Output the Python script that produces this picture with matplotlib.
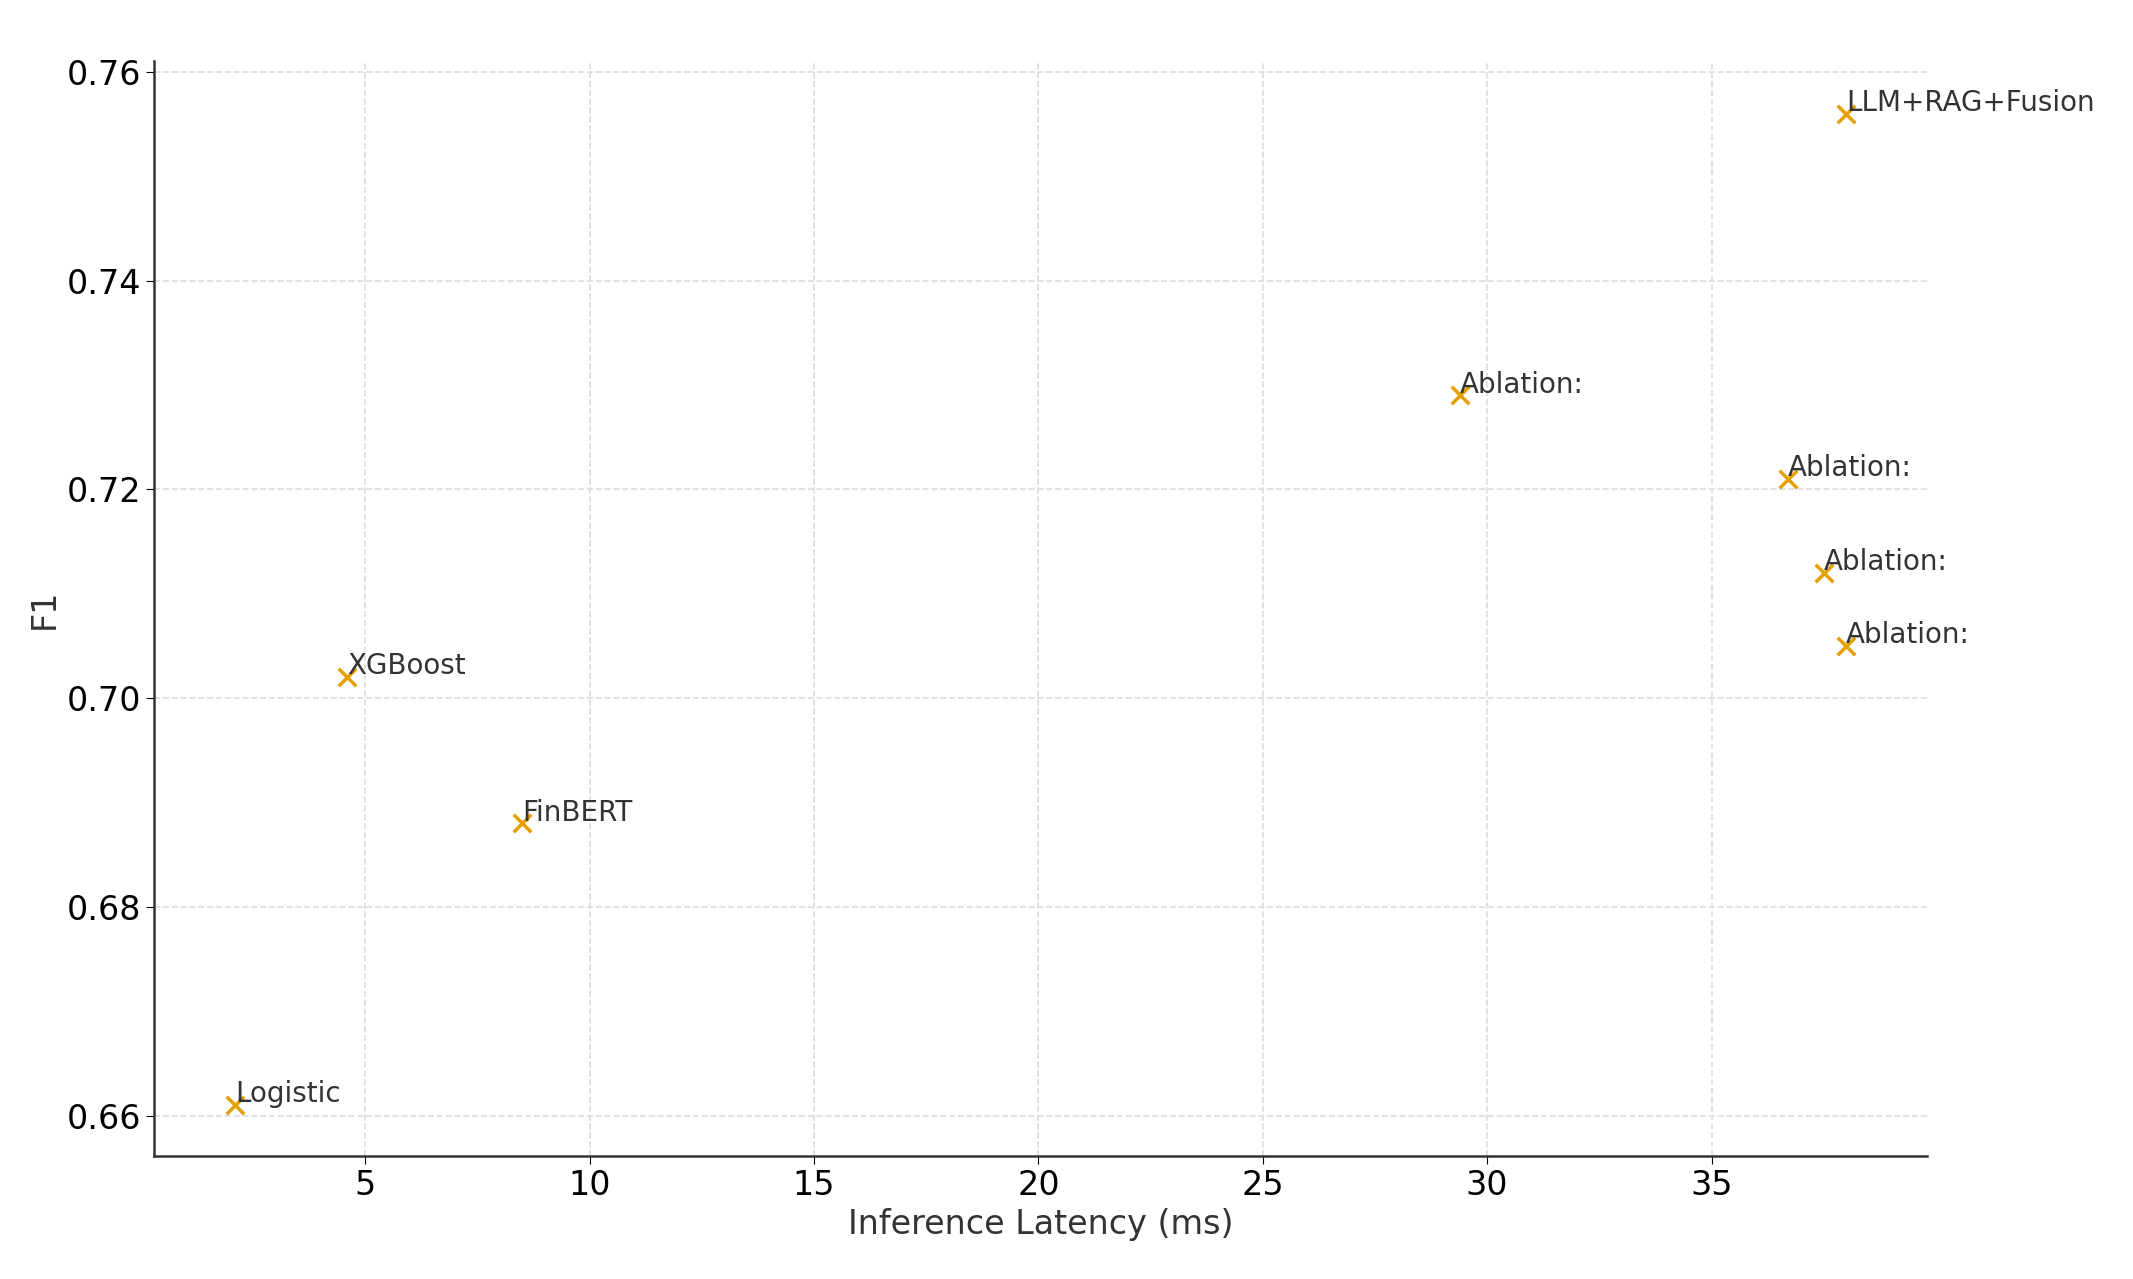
import matplotlib
matplotlib.use('Agg')
import matplotlib.pyplot as plt

# ===== DATA =====
labels = ['Logistic', 'XGBoost', 'FinBERT', 'Ablation:', 'Ablation:', 'Ablation:', 'Ablation:', 'LLM+RAG+Fusion']
latency = [2.1, 4.6, 8.5, 29.4, 36.7, 37.5, 38.0, 38.0]
f1 = [0.661, 0.702, 0.688, 0.729, 0.721, 0.712, 0.705, 0.756]

# ===== PLOT =====
fig = plt.figure(figsize=(21.33, 12.79), dpi=100)
ax = fig.add_axes([0.0724, 0.096, 0.831, 0.856])
ax.scatter(latency, f1, marker='x', color='#E69F00', s=160, linewidths=2.5, zorder=3)
for x, y, t in zip(latency, f1, labels):
	ax.annotate(t, (x, y), xytext=(0, 2), textcoords='offset points',
		fontsize=20, color='#333333')

ax.set_xlim(0.3, 39.8)
ax.set_ylim(0.6561, 0.761)
ax.set_xticks([5, 10, 15, 20, 25, 30, 35])
ax.set_yticks([0.66, 0.68, 0.70, 0.72, 0.74, 0.76])
ax.tick_params(labelsize=24, length=6)
ax.set_xlabel('Inference Latency (ms)', fontsize=24, color='#333333')
ax.set_ylabel('F1', fontsize=24, color='#333333')
ax.grid(True, linestyle='--', color='#dddddd', linewidth=1.2)
ax.spines['top'].set_visible(False)
ax.spines['right'].set_visible(False)
for s in ('left', 'bottom'):
	ax.spines[s].set_linewidth(1.8)
	ax.spines[s].set_color('#333333')

fig.savefig('out.png', dpi=100)
